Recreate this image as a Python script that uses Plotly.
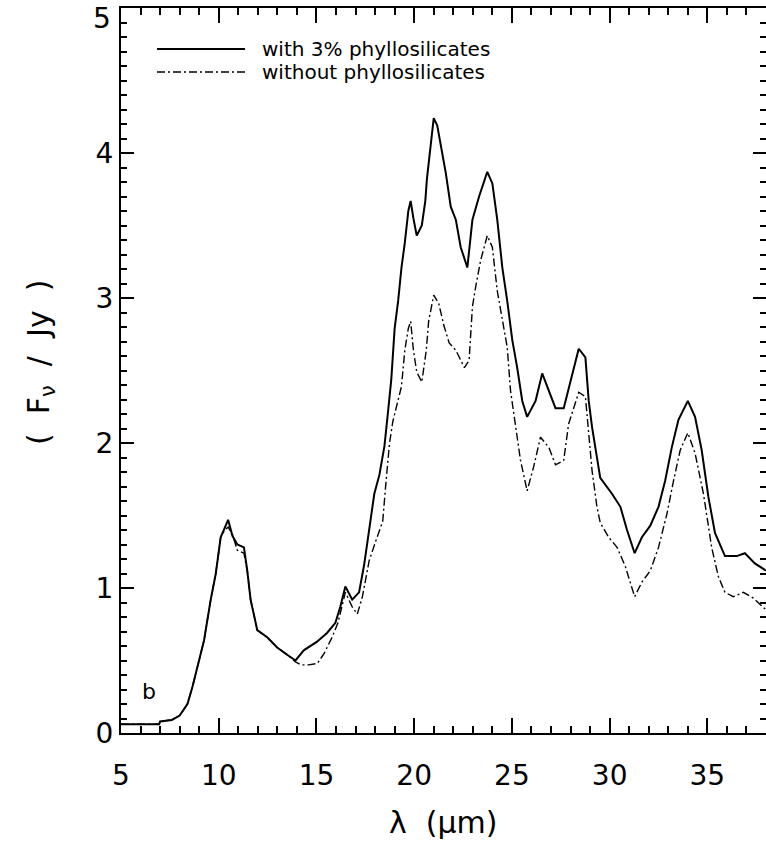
import plotly.graph_objects as go

# wavelength (micron) and flux (Jy) for the model with 3% phyllosilicates
lam_with = [5.0, 6.0, 6.95, 7.0, 7.6, 8.0, 8.4, 8.66, 8.91, 9.25, 9.59, 9.85, 10.1, 10.31, 10.48,
            10.7, 10.95, 11.29, 11.46, 11.63, 11.97, 12.48, 12.99, 13.5, 13.93, 14.35, 15.03, 15.54,
            15.97, 16.22, 16.48, 16.83, 17.18, 17.44, 17.70, 17.96, 18.22, 18.48, 18.65, 18.83, 19.0,
            19.18, 19.35, 19.52, 19.70, 19.82, 19.96, 20.13, 20.39, 20.57, 20.65, 20.83, 21.0, 21.18,
            21.35, 21.62, 21.87, 22.13, 22.38, 22.72, 22.98, 23.32, 23.74, 24.0, 24.25, 24.51, 24.76,
            25.02, 25.27, 25.53, 25.78, 26.21, 26.55, 26.89, 27.23, 27.65, 27.99, 28.42, 28.76, 28.93,
            29.1, 29.35, 29.52, 30.12, 30.55, 30.89, 31.28, 31.65, 32.08, 32.5, 32.84, 33.18, 33.52,
            34.0, 34.37, 34.71, 35.05, 35.39, 35.9, 36.5, 36.92, 37.43, 38.0]
flux_with = [0.06, 0.06, 0.06, 0.08, 0.09, 0.12, 0.20, 0.32, 0.46, 0.64, 0.92, 1.10, 1.35, 1.42, 1.47,
             1.36, 1.30, 1.28, 1.12, 0.92, 0.71, 0.66, 0.59, 0.54, 0.50, 0.57, 0.63, 0.69,
             0.76, 0.87, 1.01, 0.92, 0.97, 1.16, 1.41, 1.65, 1.78, 1.98, 2.20, 2.44, 2.79,
             2.98, 3.21, 3.38, 3.60, 3.67, 3.55, 3.43, 3.50, 3.67, 3.82, 4.04, 4.24, 4.19,
             4.07, 3.86, 3.63, 3.54, 3.35, 3.21, 3.54, 3.70, 3.87, 3.79, 3.54, 3.21, 2.98,
             2.71, 2.52, 2.29, 2.18, 2.29, 2.48, 2.36, 2.24, 2.24, 2.43, 2.65, 2.59, 2.29,
             2.11, 1.90, 1.76, 1.65, 1.56, 1.40, 1.24, 1.35, 1.43, 1.56, 1.74, 1.97, 2.16,
             2.29, 2.18, 1.95, 1.63, 1.38, 1.22, 1.22, 1.24, 1.17, 1.12]

# model without phyllosilicates
lam_without = [5.0, 6.0, 6.95, 7.0, 7.6, 8.0, 8.4, 8.66, 8.91, 9.25, 9.59, 9.85, 10.1, 10.31, 10.48,
               10.7, 10.95, 11.29, 11.46, 11.63, 11.97, 12.48, 12.99, 13.5, 13.93, 14.2, 14.6, 15.05,
               15.4, 15.8, 16.1, 16.3, 16.48, 16.83, 17.09, 17.35, 17.70, 18.05, 18.39, 18.57, 18.74,
               18.91, 19.09, 19.35, 19.52, 19.70, 19.82, 19.96, 20.13, 20.39, 20.62, 20.74, 21.0, 21.26,
               21.52, 21.79, 22.13, 22.39, 22.57, 22.81, 22.98, 23.15, 23.4, 23.74, 24.0, 24.25, 24.51,
               24.76, 24.93, 25.19, 25.44, 25.78, 26.12, 26.46, 26.89, 27.23, 27.65, 27.9, 28.42, 28.76,
               28.93, 29.1, 29.35, 29.52, 29.95, 30.38, 30.8, 31.28, 31.65, 32.08, 32.5, 32.93, 33.27,
               33.61, 34.0, 34.37, 34.8, 35.22, 35.56, 35.9, 36.33, 36.84, 37.35, 38.0]
flux_without = [0.06, 0.06, 0.06, 0.08, 0.09, 0.12, 0.20, 0.32, 0.46, 0.64, 0.92, 1.10, 1.35, 1.40, 1.42,
                1.37, 1.26, 1.24, 1.12, 0.92, 0.71, 0.66, 0.59, 0.54, 0.49, 0.47, 0.47, 0.48,
                0.55, 0.66, 0.76, 0.87, 0.97, 0.87, 0.82, 0.94, 1.19, 1.33, 1.46, 1.75, 2.00,
                2.15, 2.25, 2.39, 2.64, 2.79, 2.84, 2.64, 2.49, 2.42, 2.64, 2.84, 3.02, 2.96,
                2.81, 2.69, 2.64, 2.57, 2.52, 2.57, 2.94, 3.08, 3.26, 3.43, 3.35, 3.05, 2.85,
                2.66, 2.36, 2.13, 1.88, 1.67, 1.84, 2.04, 1.97, 1.85, 1.88, 2.13, 2.35, 2.32,
                2.09, 1.81, 1.56, 1.45, 1.35, 1.28, 1.15, 0.94, 1.04, 1.12, 1.28, 1.51, 1.74,
                1.95, 2.07, 1.93, 1.65, 1.28, 1.08, 0.97, 0.94, 0.97, 0.93, 0.85]

series_names = ["with 3% phyllosilicates", "without phyllosilicates"]
x_tick_step = 5
y_tick_vals = [0, 1, 2, 3, 4, 5]
y_tick_text = ["0", "1", "2", "3", "4", ""]   # top label "5" placed just below its tick
y_top_label = "5"

FONT = "DejaVu Sans"
DASH = "8px,3px,2px,3px"

fig = go.Figure()
fig.add_trace(go.Scatter(x=lam_with, y=flux_with, mode="lines", name=series_names[0],
                         line=dict(color="black", width=2)))
fig.add_trace(go.Scatter(x=lam_without, y=flux_without, mode="lines", name=series_names[1],
                         line=dict(color="black", width=1.4, dash=DASH)))

axis_common = dict(showline=True, linecolor="black", linewidth=2, mirror="allticks",
                   ticks="inside", tickcolor="black", tickwidth=2, showgrid=False, zeroline=False,
                   ticklabeloverflow="allow", automargin=False,
                   tickfont=dict(family=FONT, size=28, color="black"))

fig.update_xaxes(range=[5, 38], tickmode="linear", tick0=5, dtick=x_tick_step, ticklen=15,
                 ticklabelstandoff=16,
                 minor=dict(tickmode="linear", dtick=1, ticks="inside", ticklen=7,
                            tickcolor="black", tickwidth=2),
                 **axis_common)
fig.update_yaxes(range=[0, 5], tickmode="array", tickvals=y_tick_vals, ticktext=y_tick_text,
                 ticklen=13,
                 minor=dict(tickmode="linear", tick0=0, dtick=0.1, ticks="inside", ticklen=6,
                            tickcolor="black", tickwidth=2),
                 **axis_common)

W, H = 766, 847
ml, mr, mt, mb = 121, 0, 8, 114
pw, ph = W - ml - mr, H - mt - mb


def px(xp):
    return (xp - ml) / pw


def py(yp):
    return (H - mb - yp) / ph


fig.add_annotation(xref="paper", yref="y", x=0, y=y_tick_vals[-1], yshift=-10,
                   text=y_top_label, showarrow=False, xanchor="right", yanchor="middle",
                   xshift=-8, font=dict(family=FONT, size=28, color="black"))

# legend drawn manually
leg_y = [49, 72]
for i, name in enumerate(series_names):
    fig.add_shape(type="line", xref="paper", yref="paper",
                  x0=px(157), x1=px(245), y0=py(leg_y[i]), y1=py(leg_y[i]),
                  line=dict(color="black", width=2 if i == 0 else 1.4,
                            dash=None if i == 0 else DASH))
    fig.add_annotation(xref="paper", yref="paper", x=px(260), y=py(leg_y[i]),
                       text=name, showarrow=False, xanchor="left", yanchor="middle",
                       font=dict(family=FONT, size=20, color="black"))

fig.add_annotation(xref="paper", yref="paper", x=px(149), y=py(691), text="b",
                   showarrow=False, xanchor="center", yanchor="middle",
                   font=dict(family=FONT, size=22, color="black"))

fig.add_annotation(xref="paper", yref="paper", x=px(443), y=py(822),
                   text="λ\u00a0\u00a0(μm)", showarrow=False, xanchor="center", yanchor="middle",
                   font=dict(family=FONT, size=30, color="black"))
fig.add_annotation(xref="paper", yref="paper", x=px(40), y=py(362),
                   text="(\u00a0\u00a0F<sub>ν</sub>\u00a0\u00a0/\u00a0\u00a0Jy\u00a0\u00a0)", textangle=-90,
                   showarrow=False, xanchor="center", yanchor="middle",
                   font=dict(family=FONT, size=30, color="black"))

fig.update_layout(width=W, height=H, margin=dict(l=ml, r=mr, t=mt, b=mb),
                  plot_bgcolor="white", paper_bgcolor="white", showlegend=False)

fig.write_html("out.html")
